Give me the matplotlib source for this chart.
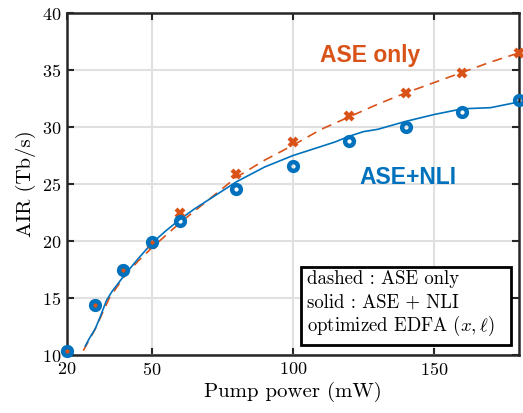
import matplotlib
matplotlib.use('Agg')
import matplotlib.pyplot as plt
from matplotlib.patches import Rectangle

# Simulation points (markers)
pump_pts = [20, 30, 40, 50, 60, 80, 100, 120, 140, 160, 180]
nli_pts = [10.35, 14.4, 17.5, 19.9, 21.8, 24.55, 26.6, 28.8, 30.0, 31.35, 32.35]
ase_pts = [10.35, 14.4, 17.5, 19.75, 22.5, 25.85, 28.65, 31.0, 33.0, 34.75, 36.5]

# Optimized curves (lines)
nli_x = [26.5, 28, 30, 32, 34, 36, 40, 45, 50, 55, 60, 65, 70, 75, 80, 90, 100,
         110, 115, 120, 125, 130, 140, 150, 160, 170, 180]
nli_y = [10.8, 11.5, 12.3, 13.5, 14.8, 15.6, 16.9, 18.4, 19.8, 20.9, 21.9, 22.8,
         23.6, 24.4, 25.2, 26.5, 27.5, 28.3, 28.7, 29.2, 29.6, 29.8, 30.5, 31.1,
         31.6, 31.7, 32.2]
ase_x = [25.8, 30, 35, 40, 45, 50, 60, 70, 80, 90, 100, 110, 120, 130, 140, 150,
         160, 170, 180]
ase_y = [10.4, 12.3, 15.0, 16.8, 18.2, 19.4, 21.6, 23.6, 25.6, 27.1, 28.4, 29.8,
         30.9, 32.0, 33.0, 33.9, 34.8, 35.7, 36.5]

x_ticks = [20, 50, 100, 150]
y_ticks = [10, 15, 20, 25, 30, 35, 40]

blue = '#0072BD'
orange = '#D95319'

plt.rcParams['font.family'] = 'serif'
plt.rcParams['font.serif'] = ['cmr10']
plt.rcParams['mathtext.fontset'] = 'cm'
plt.rcParams['axes.formatter.use_mathtext'] = True

fig = plt.figure(figsize=(5.23, 4.13), dpi=100)
ax = fig.add_axes([0.128, 0.140, 0.864, 0.8285])

ax.plot(ase_x, ase_y, color=orange, lw=1.2, dashes=(6, 4))
ax.plot(nli_x, nli_y, color=blue, lw=1.2)
ax.plot(pump_pts, ase_pts, ls='none', marker='x', ms=6, mew=3,
        color=orange, clip_on=False, zorder=4)
ax.plot(pump_pts, nli_pts, ls='none', marker='o', ms=6.3, mew=3.2,
        mfc='none', mec=blue, clip_on=False, zorder=5)

ax.set_xlim(20, 180)
ax.set_ylim(10, 40)
ax.set_xticks(x_ticks)
ax.set_yticks(y_ticks)
ax.grid(True, color='#e0e0e0', lw=1.5)
ax.set_axisbelow(True)
ax.tick_params(direction='in', top=True, right=True, length=5, width=1.5,
               labelsize=13, color='#262626', pad=4)
for s in ax.spines.values():
    s.set_linewidth(1.8)
    s.set_color('#262626')

ax.set_xlabel('Pump power (mW)', fontsize=15, labelpad=3)
ax.set_ylabel('AIR (Tb/s)', fontsize=15, labelpad=4)

ax.text(127.3, 36.3, 'ASE only', color=orange, fontsize=16.5, fontweight='bold',
        family='Liberation Sans', ha='center', va='center')
ax.text(140.7, 25.6, 'ASE+NLI', color=blue, fontsize=16.5, fontweight='bold',
        family='Liberation Sans', ha='center', va='center')

# note box
ax.add_patch(Rectangle((0.517, 0.029), 0.465, 0.229, transform=ax.transAxes,
                       fill=True, fc='white', ec='black', lw=2, zorder=6))
notes = ['dashed : ASE only', 'solid : ASE + NLI', r'optimized EDFA $(x,\ell)$']
for i, t in enumerate(notes):
    ax.text(0.531, 0.222 - i * 0.068, t, transform=ax.transAxes, fontsize=13.5,
            va='center', ha='left', zorder=7)

fig.savefig('out.png', dpi=100)
